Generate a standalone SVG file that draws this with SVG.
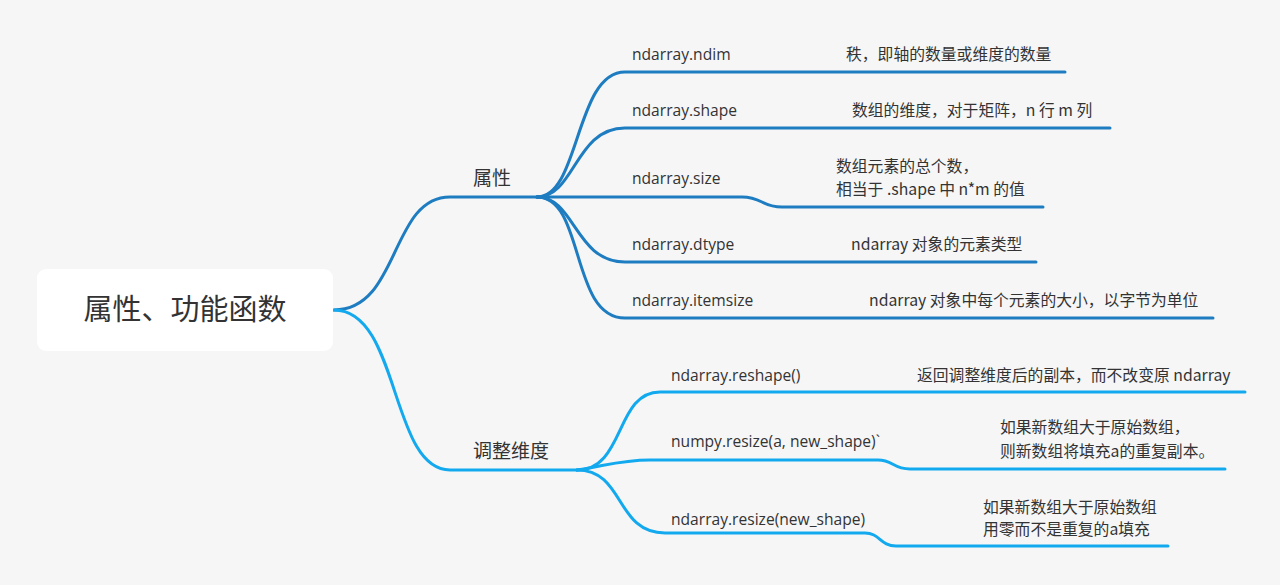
<svg xmlns="http://www.w3.org/2000/svg" width="1280" height="585" viewBox="0 0 1280 585">
<style>
.t{font-family:"Open Sans","Noto Sans CJK SC",sans-serif;font-size:15.6px;fill:#333}
.c{font-family:"Noto Sans CJK SC","Open Sans",sans-serif;font-size:15.8px;fill:#333}
.b{font-family:"Noto Sans CJK SC",sans-serif;font-size:19px;fill:#333}
.d{fill:none;stroke:#1e7cc0;stroke-width:3;stroke-linecap:round}
.l{fill:none;stroke:#12a9ee;stroke-width:3;stroke-linecap:round}
</style>
<rect width="1280" height="585" fill="#f6f6f7"/>
<g id="connectors">
<path class="d" d="M334,310 C400,310 390,197 450,197 L537,197"/>
<path class="l" d="M334,310 C400,310 390,470 450,470 L577,470"/>
<path class="d" d="M537,197 C580,197 575,72 625,72 L1065,72"/>
<path class="d" d="M537,197 C575,197 575,128 625,128 L1110,128"/>
<path class="d" d="M537,197 L742,197 C762,197 762,207 782,207 L1043,207"/>
<path class="d" d="M537,197 C575,197 575,262 625,262 L1036,262"/>
<path class="d" d="M537,197 C585,197 570,318 625,318 L1213,318"/>
<path class="l" d="M577,470 C625,470 615,392 660,392 L1245,392"/>
<path class="l" d="M577,470 C605,466 620,460 650,460 L878,460 C893,460 893,469 910,469 L1225,469"/>
<path class="l" d="M577,470 C625,470 615,533 665,533 L865,533 C880,533 880,546 896,546 L1168,546"/>
</g>
<g id="root">
<rect x="37" y="269" width="296" height="82" rx="9" fill="#ffffff"/>
<text x="185" y="320" text-anchor="middle" style="font-family:'Noto Sans CJK SC',sans-serif;font-size:29px;fill:#333">属性、功能函数</text>
</g>
<g id="attr"><text class="b" x="473" y="185">属性</text></g>
<g id="dims"><text class="b" x="473" y="458">调整维度</text></g>
<g id="ndim"><text class="t" x="632" y="60">ndarray.ndim</text><text class="c" x="846" y="60">秩，即轴的数量或维度的数量</text></g>
<g id="shape"><text class="t" x="632" y="116">ndarray.shape</text><text class="c" x="852" y="116">数组的维度，对于矩阵，n 行 m 列</text></g>
<g id="size"><text class="t" x="632" y="184">ndarray.size</text><text class="c" x="836" y="172">数组元素的总个数，</text><text class="c" x="836" y="195">相当于 .shape 中 n*m 的值</text></g>
<g id="dtype"><text class="t" x="632" y="250">ndarray.dtype</text><text class="c" x="851" y="250">ndarray 对象的元素类型</text></g>
<g id="itemsize"><text class="t" x="632" y="306">ndarray.itemsize</text><text class="c" x="869" y="306">ndarray 对象中每个元素的大小，以字节为单位</text></g>
<g id="reshape"><text class="t" x="671" y="381">ndarray.reshape()</text><text class="c" x="917" y="381">返回调整维度后的副本，而不改变原 ndarray</text></g>
<g id="npresize"><text class="t" x="671" y="447">numpy.resize(a, new_shape)`</text><text class="c" x="1000" y="433">如果新数组大于原始数组，</text><text class="c" x="1000" y="457">则新数组将填充a的重复副本。</text></g>
<g id="ndresize"><text class="t" x="671" y="525">ndarray.resize(new_shape)</text><text class="c" x="983" y="513">如果新数组大于原始数组</text><text class="c" x="983" y="535">用零而不是重复的a填充</text></g>
</svg>
